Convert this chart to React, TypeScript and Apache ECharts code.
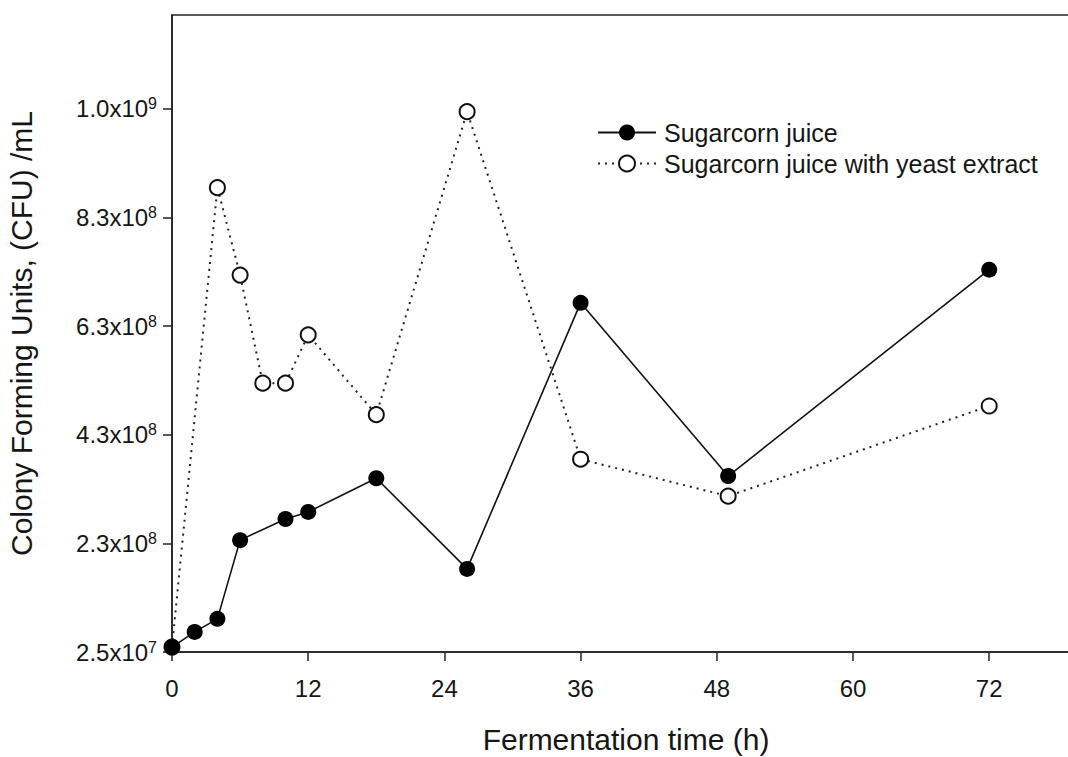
import React, { useEffect, useRef } from "react";
import * as echarts from "echarts";

// Fermentation time (h)
const hoursJuice = [0, 2, 4, 6, 10, 12, 18, 26, 36, 49, 72];
const cfuJuice = [3.4e7, 6.2e7, 8.6e7, 2.31e8, 2.7e8, 2.83e8, 3.45e8, 1.78e8, 6.68e8, 3.49e8, 7.29e8];

const hoursYeast = [0, 4, 6, 8, 10, 12, 18, 26, 36, 49, 72];
const cfuYeast = [3.4e7, 8.8e8, 7.19e8, 5.2e8, 5.2e8, 6.09e8, 4.62e8, 1.02e9, 3.8e8, 3.12e8, 4.78e8];

const xTicks = [0, 12, 24, 36, 48, 60, 72];
// y axis starts at 2.5x10^7, ticks every 2x10^8
const yBase = 2.5e7;
const yStep = 2e8;
const yTickMantissa = ["2.5", "2.3", "4.3", "6.3", "8.3", "1.0"];
const yTickExp = ["7", "8", "8", "8", "8", "9"];

const seriesNames = ["Sugarcorn juice", "Sugarcorn juice with yeast extract"];

const FONT = "'Liberation Sans', Arial, sans-serif";
const INK = "#161616";

export default function App() {
  const ref = useRef<HTMLDivElement>(null);

  useEffect(() => {
    if (!ref.current) return;
    const chart = echarts.init(ref.current, null, { renderer: "svg" });

    const yTickValues = yTickMantissa.map((_, i) => i * yStep);
    const toPairs = (xs: number[], ys: number[]) => xs.map((x, i) => [x, ys[i] - yBase]);

    chart.setOption({
      animation: false,
      backgroundColor: "#ffffff",
      grid: {
        left: 172,
        top: 15,
        bottom: 105,
        width: 908,
        outerBoundsMode: "none",
        containLabel: false,
        show: true,
        borderColor: "#222",
        borderWidth: 1.5,
        backgroundColor: "transparent",
      },
      legend: {
        orient: "vertical",
        left: 592,
        top: 115,
        itemWidth: 58,
        itemHeight: 20,
        itemGap: 6,
        data: seriesNames,
        textStyle: { fontFamily: FONT, fontSize: 25, color: INK, padding: [0, 0, 0, 3] },
      },
      xAxis: {
        type: "value",
        min: 0,
        max: 80,
        name: "Fermentation time (h)",
        nameLocation: "middle",
        nameGap: 72,
        nameTextStyle: { fontFamily: FONT, fontSize: 30, color: INK },
        axisLine: { show: true, lineStyle: { color: "#222", width: 1.5 } },
        axisTick: { show: true, length: 9, lineStyle: { color: "#222", width: 1.5 }, customValues: xTicks },
        axisLabel: {
          fontFamily: FONT,
          fontSize: 24,
          color: INK,
          margin: 24,
          customValues: xTicks,
        },
        splitLine: { show: false },
      },
      yAxis: {
        type: "value",
        min: 0,
        max: 1.173e9,
        name: "Colony Forming Units, (CFU) /mL",
        nameLocation: "middle",
        nameGap: 136,
        nameTextStyle: { fontFamily: FONT, fontSize: 30, color: INK },
        axisLine: { show: true, lineStyle: { color: "#222", width: 1.5 } },
        axisTick: { show: true, length: 9, lineStyle: { color: "#222", width: 1.5 }, customValues: yTickValues },
        axisLabel: {
          fontFamily: FONT,
          fontSize: 24,
          lineHeight: 26,
          color: INK,
          margin: 15,
          customValues: yTickValues,
          formatter: (v: number) => {
            const i = Math.round(v / yStep);
            if (i < 0 || i >= yTickMantissa.length) return "";
            return `${yTickMantissa[i]}x10{e|${yTickExp[i]}}`;
          },
          rich: {
            e: { fontFamily: FONT, fontSize: 16, color: INK, verticalAlign: "top", lineHeight: 16, padding: [0, 0, 10, 0] },
          },
        },
        splitLine: { show: false },
      },
      series: [
        {
          name: seriesNames[1],
          type: "line",
          data: toPairs(hoursYeast, cfuYeast),
          symbol: "circle",
          symbolSize: 15,
          lineStyle: { color: "#222", width: 2, type: [2, 5] },
          itemStyle: { color: "#ffffff", borderColor: "#111", borderWidth: 2 },
          z: 2,
        },
        {
          name: seriesNames[0],
          type: "line",
          data: toPairs(hoursJuice, cfuJuice),
          symbol: "circle",
          symbolSize: 16,
          lineStyle: { color: "#111", width: 1.6 },
          itemStyle: { color: "#000", borderColor: "#000", borderWidth: 0 },
          z: 3,
        },
      ],
    });

    return () => chart.dispose();
  }, []);

  return (
    <div
      ref={ref}
      style={{ position: "fixed", left: 0, top: 0, width: 1068, height: 757, background: "#fff" }}
    />
  );
}
